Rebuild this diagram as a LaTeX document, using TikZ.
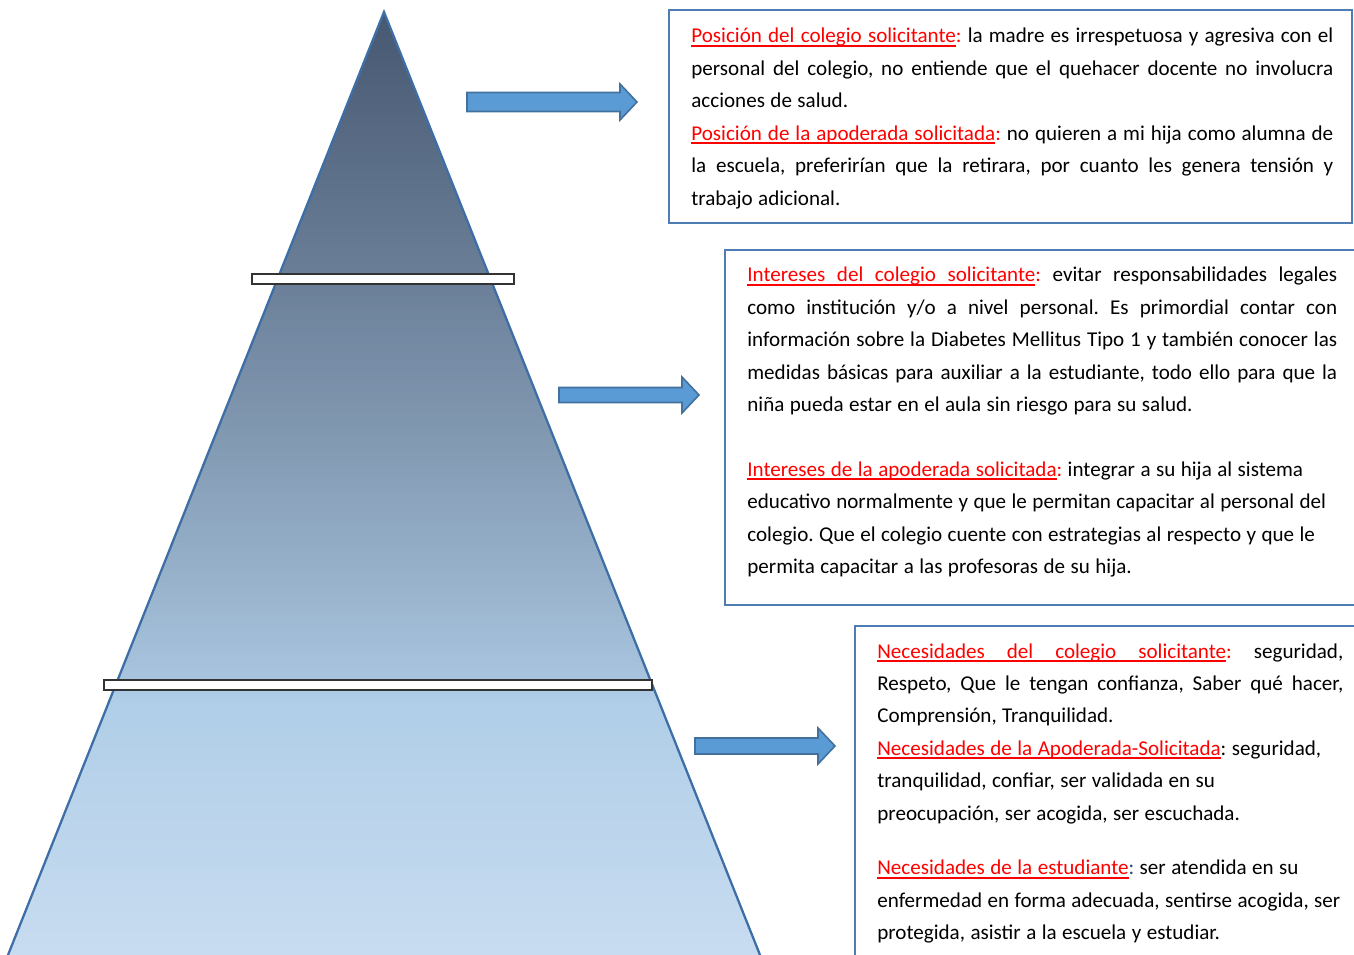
\documentclass[tikz,border=0pt]{standalone}
\usepackage{fontspec}
\setmainfont{Carlito}
\setlength{\parindent}{0pt}
\frenchspacing

\definecolor{borde}{RGB}{62,110,166}
\definecolor{marco}{RGB}{79,124,178}
\definecolor{relleno}{RGB}{91,155,213}
\definecolor{contorno}{RGB}{65,113,156}
\definecolor{dospuntos}{RGB}{31,73,125}
\definecolor{capa0}{RGB}{71,88,113}
\definecolor{capa1}{RGB}{107,127,153}
\definecolor{capa2}{RGB}{132,155,180}
\definecolor{capa3}{RGB}{168,196,222}
\definecolor{capa4}{RGB}{176,206,232}
\definecolor{capa5}{RGB}{200,220,240}

\pgfdeclareverticalshading{iceberg}{100bp}{color(0bp)=(capa5); color(25bp)=(capa5);
  color(38.7bp)=(capa4); color(39.75bp)=(capa3); color(51.9bp)=(capa2);
  color(60.85bp)=(capa1); color(75bp)=(capa0); color(100bp)=(capa0)}

% subrayado palabra por palabra, con espacios que se estiran
\newsavebox{\ulcaja}
\newcommand{\ulw}[1]{\sbox{\ulcaja}{#1}\rlap{\rule[-2pt]{\wd\ulcaja}{1pt}}\usebox{\ulcaja}}
\newcommand{\ulsp}{\leaders\hrule height -1pt depth 2pt\hskip\fontdimen2\font plus\fontdimen3\font minus\fontdimen4\font}
\def\ulpalabras#1 #2\fin{\ulw{#1}\ifx\relax#2\relax\else\ulsp\ulpalabras#2\fin\fi}
\newcommand{\rojo}[1]{\textcolor{red}{\ulpalabras#1 \fin}}

% renglon justificado al ancho de su cuadro
\newlength{\ancho}
\newcommand{\just}[1]{\makebox[\ancho][s]{#1}}
\newcommand{\letra}{\fontsize{12}{18.45}\selectfont
  \fontdimen2\font=3.1pt \fontdimen3\font=1.6pt \fontdimen4\font=0.9pt\relax}

\tikzstyle{piramide}=[draw=borde, line width=1.3pt, shading=iceberg]
\tikzstyle{nivel}=[draw=black!80, fill=white, line width=1pt]
\tikzstyle{cuadro}=[draw=marco, line width=1.4pt]
\tikzstyle{bloque}=[draw=contorno, fill=relleno, line width=0.9pt, line join=miter]
\tikzstyle{texto}=[anchor=base west, inner sep=0pt, align=left, text width=14cm, font=\letra,
  execute at begin node={\spaceskip=0pt\xspaceskip=0pt}]
\tikzset{
  pics/flecha/.style 2 args={code={
    \draw[bloque] (0,-#2) -- ({#1-17},-#2) -- ({#1-17},-18) -- (#1,0)
      -- ({#1-17},18) -- ({#1-17},#2) -- (0,#2) -- cycle;
  }}
}

\begin{document}
\begin{tikzpicture}[x=0.02cm, y=-0.02cm]
  \useasboundingbox (0,0) rectangle (1354,955);

  % piramide con sus dos cortes
  \path[piramide] (384,12) -- (762,960) -- (6,960) -- cycle;
  \draw[nivel] (252,274) rectangle (514,284);
  \draw[nivel] (104,680) rectangle (652,690);

  \pic at (467,102) {flecha={170}{9.5}};
  \pic at (559,395) {flecha={140}{7.5}};
  \pic at (695,746) {flecha={140}{8}};

  \draw[cuadro] (669,10) rectangle (1352,223);
  \draw[cuadro] (725,250) rectangle (1358,605);
  \draw[cuadro] (855,626) rectangle (1358,962);

  \node[texto] (posiciones) at (691,43) {\setlength{\ancho}{12.84cm}%
    \just{\rojo{Posición del colegio solicitante}\textcolor{red}{:} la madre es irrespetuosa y agresiva con el}\\
    \just{personal del colegio, no entiende que el quehacer docente no involucra}\\
    acciones de salud.\\
    \just{\rojo{Posición de la apoderada solicitada}\textcolor{red}{:} no quieren a mi hija como alumna de}\\
    \just{la escuela, preferirían que la retirara, por cuanto les genera tensión y}\\
    trabajo adicional.};

  \node[texto] (intereses) at (747,282) {\setlength{\ancho}{11.8cm}%
    \just{\rojo{Intereses del colegio solicitante}\textcolor{red}{:} evitar responsabilidades legales}\\
    \just{como institución y/o a nivel personal. Es primordial contar con}\\
    \just{información sobre la Diabetes Mellitus Tipo 1 y también conocer las}\\
    \just{medidas básicas para auxiliar a la estudiante, todo ello para que la}\\
    niña pueda estar en el aula sin riesgo para su salud.\\[18.45pt]
    \rojo{Intereses de la apoderada solicitada}\textcolor{red}{:} integrar a su hija al sistema\\
    educativo normalmente y que le permitan capacitar al personal del\\
    colegio. Que el colegio cuente con estrategias al respecto y que le\\
    permita capacitar a las profesoras de su hija.};

  \node[texto] (necesidades) at (877,658) {\setlength{\ancho}{9.32cm}%
    \just{\rojo{Necesidades del colegio solicitante}\textcolor{red}{:} seguridad,}\\
    \just{Respeto, Que le tengan confianza, Saber qué hacer,}\\
    Comprensión, Tranquilidad.\\
    \rojo{Necesidades de la Apoderada-Solicitada}: seguridad,\\
    tranquilidad, confiar, ser validada en su\\
    preocupación, ser acogida, ser escuchada.\\[0.45cm]
    \rojo{Necesidades de la estudiante}\textcolor{dospuntos}{:} ser atendida en su\\
    enfermedad en forma adecuada, sentirse acogida, ser\\
    protegida, asistir a la escuela y estudiar.};
\end{tikzpicture}
\end{document}
